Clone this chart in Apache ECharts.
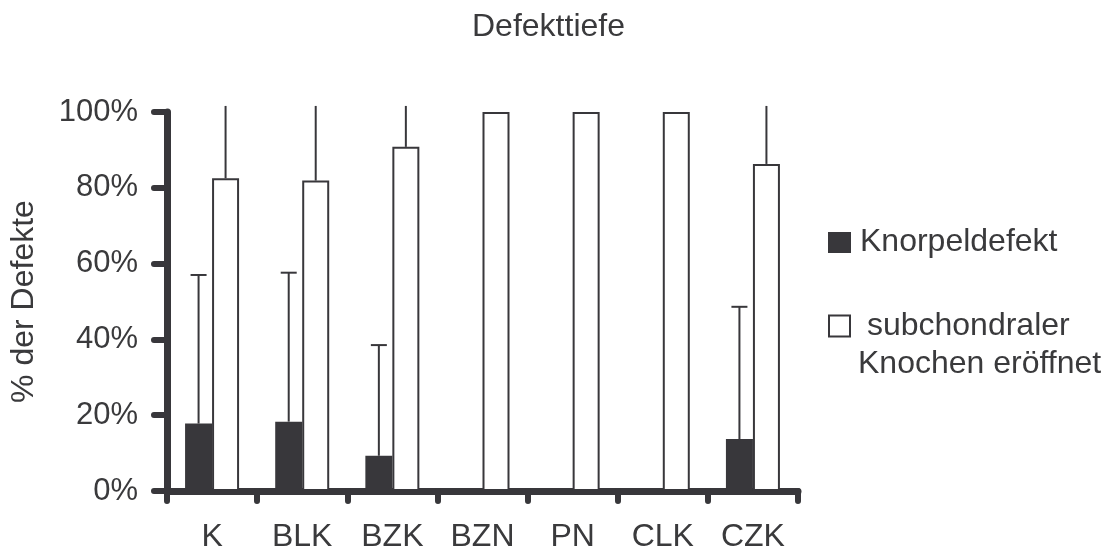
<!DOCTYPE html>
<html>
<head>
<meta charset="utf-8">
<script src="https://cdn.jsdelivr.net/npm/echarts@6/dist/echarts.min.js"></script>
<style>
html,body{margin:0;padding:0;background:#fff;}
#chart{width:1117px;height:556px;}
</style>
</head>
<body>
<div id="chart"></div>
<script>
// ---- data ----
const categories = ['K', 'BLK', 'BZK', 'BZN', 'PN', 'CLK', 'CZK'];
const knorpelName = 'Knorpeldefekt';
const subchName = 'subchondraler Knochen eröffnet';
const knorpel = [17.8, 18.3, 9.3, 0, 0, 0, 13.7];
const subchondral = [82.5, 81.9, 90.8, 100, 100, 100, 86.3];
// upper ends of the error bars (null = no error bar); the subchondral ones are cut off just above 100 % in the source
const knorpelErrHigh = [57.0, 57.6, 38.5, null, null, null, 48.6];
const subchondralErrHigh = [101.6, 101.6, 101.6, null, null, null, 101.6];
const yTicks = [0, 20, 40, 60, 80, 100];

// ---- styling ----
const DARK = '#38373b';
const TEXT = '#3a3a3c';
const FONT = '"Liberation Sans", Arial, sans-serif';
const BAR_W = 27;

const errData = [];
categories.forEach((c, i) => {
  if (knorpelErrHigh[i] != null) errData.push([i, knorpel[i], knorpelErrHigh[i], -1, 1]);
  if (subchondralErrHigh[i] != null) errData.push([i, subchondral[i], subchondralErrHigh[i], 1, 0]);
});

const chart = echarts.init(document.getElementById('chart'), null, {renderer: 'canvas'});
chart.setOption({
  animation: false,
  backgroundColor: '#fff',
  title: {
    text: 'Defekttiefe',
    left: 472, top: 11, padding: 0,
    textStyle: {fontFamily: FONT, fontSize: 32, fontWeight: 'normal', color: TEXT}
  },
  grid: {left: 166, right: 319, top: 112, bottom: 65, containLabel: false},
  legend: [
    {
      data: [knorpelName],
      orient: 'vertical', left: 828, top: 226.5, padding: 0,
      itemWidth: 23, itemHeight: 21, icon: 'rect',
      selectedMode: false,
      itemStyle: {color: DARK, borderWidth: 0},
      textStyle: {fontFamily: FONT, fontSize: 32, lineHeight: 32, color: TEXT, padding: [0, 0, 0, 4]}
    },
    {
      data: [subchName],
      orient: 'vertical', left: 828, top: 310, padding: 0,
      itemWidth: 21, itemHeight: 21, icon: 'rect',
      selectedMode: false,
      itemStyle: {color: '#fff', borderColor: DARK, borderWidth: 2},
      formatter: () => '{a| subchondraler}\n{a|Knochen eröffnet}',
      textStyle: {
        fontFamily: FONT, fontSize: 32, color: TEXT, padding: [38, 0, 0, 3],
        rich: {a: {fontFamily: FONT, fontSize: 32, lineHeight: 38, color: TEXT}}
      }
    }
  ],
  xAxis: {
    type: 'category',
    data: categories,
    axisLine: {lineStyle: {color: DARK, width: 7, cap: 'round'}},
    axisTick: {show: true, alignWithLabel: false, length: 10, lineStyle: {color: DARK, width: 6, cap: 'round'}},
    axisLabel: {fontFamily: FONT, fontSize: 32, color: TEXT, margin: 30, interval: 0},
    splitLine: {show: false}
  },
  yAxis: {
    type: 'value',
    min: yTicks[0], max: yTicks[yTicks.length - 1], interval: yTicks[1] - yTicks[0],
    name: '% der Defekte',
    nameLocation: 'middle',
    nameGap: 127,
    nameRotate: 90,
    nameTextStyle: {fontFamily: FONT, fontSize: 32, color: TEXT},
    axisLine: {show: true, lineStyle: {color: DARK, width: 7, cap: 'round'}},
    axisTick: {show: true, length: 13, lineStyle: {color: DARK, width: 6, cap: 'round'}},
    axisLabel: {fontFamily: FONT, fontSize: 31, color: TEXT, margin: 29, formatter: '{value}%'},
    splitLine: {show: false}
  },
  series: [
    {
      name: knorpelName, type: 'bar', data: knorpel,
      barWidth: BAR_W, barGap: '0%',
      itemStyle: {color: DARK, borderWidth: 0},
      emphasis: {disabled: true}, silent: true
    },
    {
      name: subchName, type: 'bar', data: subchondral,
      barWidth: BAR_W, barGap: '0%',
      itemStyle: {color: '#fff', borderColor: DARK, borderWidth: 2},
      emphasis: {disabled: true}, silent: true
    },
    {
      name: 'Fehler', type: 'custom', data: errData, clip: false, silent: true, z: 5,
      renderItem: function (params, api) {
        const idx = api.value(0);
        const p0 = api.coord([idx, api.value(1)]);
        const p1 = api.coord([idx, api.value(2)]);
        const cx = p0[0] + api.value(3) * BAR_W / 2;
        const style = {stroke: DARK, lineWidth: 2};
        const children = [{type: 'line', shape: {x1: cx, y1: p0[1], x2: cx, y2: p1[1]}, style: style}];
        if (api.value(4)) {
          children.push({type: 'line', shape: {x1: cx - 8, y1: p1[1], x2: cx + 8, y2: p1[1]}, style: style});
        }
        return {type: 'group', children: children};
      }
    }
  ]
});
</script>
</body>
</html>
